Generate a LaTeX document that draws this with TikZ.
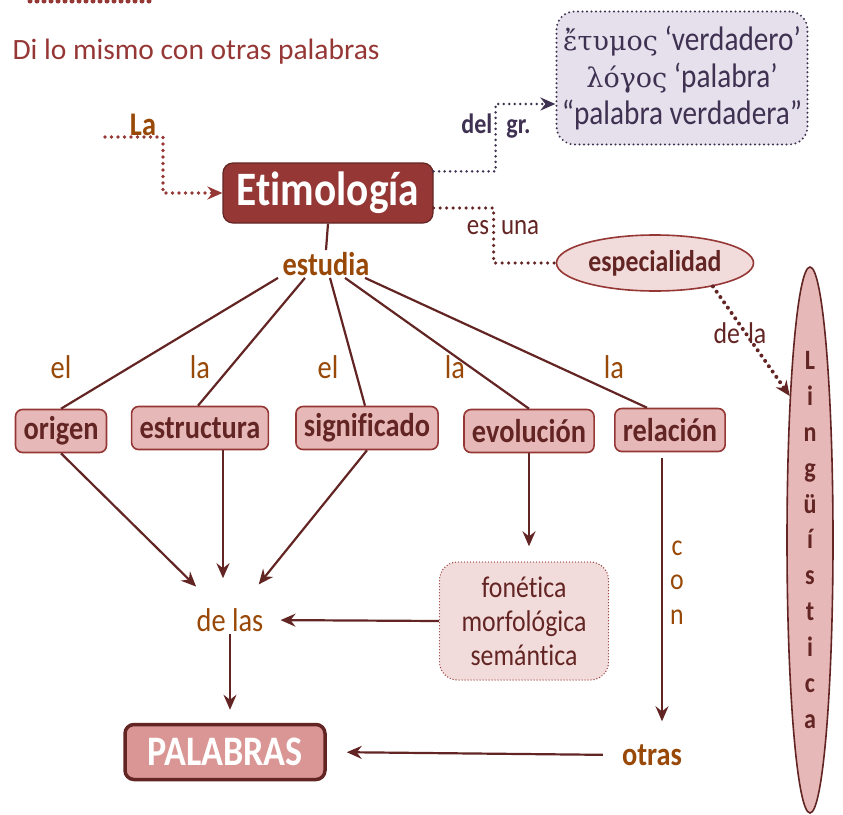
\documentclass[tikz,border=0pt]{standalone}
\usepackage{fontspec}
\setmainfont{Carlito}[FakeStretch=0.86,Ligatures=NoCommon]
\newfontfamily\titlefont{Carlito}[Ligatures=NoCommon]
\newfontfamily\greekfont{DejaVu Serif}
\usetikzlibrary{arrows.meta,shapes.geometric,calc}
\definecolor{etimred}{HTML}{953735}
\definecolor{darkbrown}{HTML}{632523}
\definecolor{rosefill}{HTML}{E6B9B8}
\definecolor{palefill}{HTML}{F2DCDB}
\definecolor{palfill}{HTML}{D99694}
\definecolor{ochre}{HTML}{984807}
\definecolor{greekink}{HTML}{3F3151}
\definecolor{greekfill}{HTML}{E5E0EC}

\begin{document}
\begin{tikzpicture}[x=1pt,y=-1pt,
  concept/.style={draw=etimred,line width=1.6pt,fill=rosefill,rounded corners=7pt,
    text=darkbrown,font=\fontsize{33}{36}\selectfont\bfseries,
    minimum height=43pt,inner xsep=8pt,inner ysep=0pt},
  word/.style={text=ochre,font=\fontsize{33}{36}\selectfont,inner sep=2pt},
  boldword/.style={word,font=\fontsize{33}{36}\selectfont\bfseries},
  link/.style={draw=darkbrown,line width=2.2pt},
  tip/.style={-{Stealth[length=15pt,width=13pt,inset=5pt]}},
  arrow/.style={link,tip},
  dots/.style={line width=3.6pt,line cap=round,dash pattern=on 0pt off 6.5pt}]
\useasboundingbox (0,0) rectangle (843,814);
\draw[etimred,line width=5pt,line cap=round,dash pattern=on 0pt off 7pt] (30,1) -- (150,1);

\node[anchor=west,text=etimred,font=\titlefont\fontsize{29.5}{32}\selectfont] (title) at (9,52) {Di lo mismo con otras palabras};

% centro
\node[draw=darkbrown,line width=1.2pt,fill=etimred,rounded corners=10pt,minimum width=210pt,
  minimum height=60pt,inner sep=0pt,text=white,font=\fontsize{48}{50}\selectfont\bfseries] (etim) at (328,193) {Etimología};

\node[boldword] (la) at (143,125) {La};
\coordinate (lastart) at (105,137);
\draw[dots,etimred,tip] (lastart) -- ++(58,0) |- (etim.west);

% griego
\node[draw=greekink,line width=2.2pt,line cap=round,dash pattern=on 0pt off 4.5pt,fill=greekfill,
  rounded corners=18pt,minimum width=251pt,minimum height=133pt,align=center,text=greekink,
  font=\fontsize{34}{37}\selectfont] (greek) at (682,78)
  {{\greekfont\fontsize{27}{37}\selectfont ἔτυμος} ‘verdadero’\\{\greekfont\fontsize{27}{37}\selectfont λόγος} ‘palabra’\\“palabra verdadera”};
\draw[dots,greekink,line width=2.8pt,dash pattern=on 0pt off 5.5pt,tip] ([yshift=-9pt]etim.north east) -- ++(62,0) |- ([yshift=-26pt]greek.west);
\node[text=greekink,font=\fontsize{28}{30}\selectfont\bfseries] (delgr) at (496,126) {del\hspace{14pt}gr.};

% especialidad
\node[ellipse,draw=etimred,line width=1.6pt,fill=palefill,minimum width=197pt,minimum height=56pt,
  inner sep=0pt,text=darkbrown,font=\fontsize{30}{32}\selectfont\bfseries] (esp) at (655,263) {especialidad};
\draw[dots,darkbrown] ([yshift=-15pt]etim.east) -- ++(60,0) |- (esp.west);
\node[text=darkbrown,font=\fontsize{29}{30}\selectfont] (esuna) at (503,228) {es\hspace{12pt}una};

\node[ellipse,draw=darkbrown,line width=1.6pt,fill=rosefill,minimum width=46pt,minimum height=546pt,
  inner sep=0pt,align=center,text=darkbrown,font=\fontsize{28}{35.9}\selectfont\bfseries] (ling) at (810,540)
  {L\\i\\n\\g\\ü\\í\\s\\t\\i\\c\\a};
\draw[dots,darkbrown,line width=4pt,tip] (esp.-22) -- (ling.98);
\node[text=darkbrown,font=\fontsize{30}{32}\selectfont] (dela) at (740,333) {de\hspace{8pt}la};

% estudia
\node[boldword] (estudia) at (326,264) {estudia};
\draw[link] (etim.south) -- (estudia.north);

\node[concept] (origen) at (61,431) {origen};
\node[concept] (estructura) at (200,428) {estructura};
\node[concept] (significado) at (367,428) {significado};
\node[concept] (evolucion) at (529,431) {evolución};
\node[concept] (relacion) at (670,430) {relación};

\foreach \b/\dx/\ex in {origen/-48/0,estructura/-21/-2,significado/4/-2,evolucion/19/0,relacion/39/-23}
  \draw[link] ([xshift=\dx pt]estudia.south) -- ([xshift=\ex pt]\b.north);
\foreach \t/\x [count=\i] in {el/61,la/200,el/328,la/455,la/614}
  \node[word] (art\i) at (\x,367) {\t};

% abajo
\node[word] (delas) at (230,620) {de las};
\draw[arrow,shorten >=28pt] (origen.south) -- (delas);
\draw[arrow,shorten >=28pt] ([xshift=23pt]estructura.south) -- ([xshift=23pt]estructura.south |- delas.north);
\draw[arrow,shorten >=28pt] (significado.south) -- (delas);

\node[draw=etimred,line width=1.4pt,line cap=round,dash pattern=on 0pt off 3pt,fill=palefill,
  rounded corners=18pt,minimum width=169pt,minimum height=118pt,align=center,text=darkbrown,
  font=\fontsize{30}{34}\selectfont] (fonetica) at (524,621) {fonética\\morfológica\\semántica};
\draw[arrow,shorten >=15pt] (evolucion.south) -- (evolucion.south |- fonetica.north);
\draw[arrow,shorten >=15pt] (fonetica.west) -- (delas.east);

\node[draw=darkbrown,line width=3.5pt,fill=palfill,rounded corners=9pt,minimum width=200pt,
  minimum height=55pt,text=white,font=\fontsize{42}{44}\selectfont\bfseries] (palabras) at (225,752) {PALABRAS};
\draw[arrow,shorten >=13pt] (delas.south) -- (delas.south |- palabras.north);

\node[boldword] (otras) at (652,755) {otras};
\draw[arrow,shorten <=6pt,shorten >=21pt] ([xshift=-8pt]relacion.south) -- ([xshift=-8pt]relacion.south |- otras.north);
\foreach \t/\y [count=\i] in {c/548,o/582,n/617}
  \node[word,font=\fontsize{30}{32}\selectfont] (con\i) at (677,\y) {\t};
\draw[arrow,shorten <=17pt,shorten >=20pt] (otras.west) -- (palabras.east);
\end{tikzpicture}
\end{document}
